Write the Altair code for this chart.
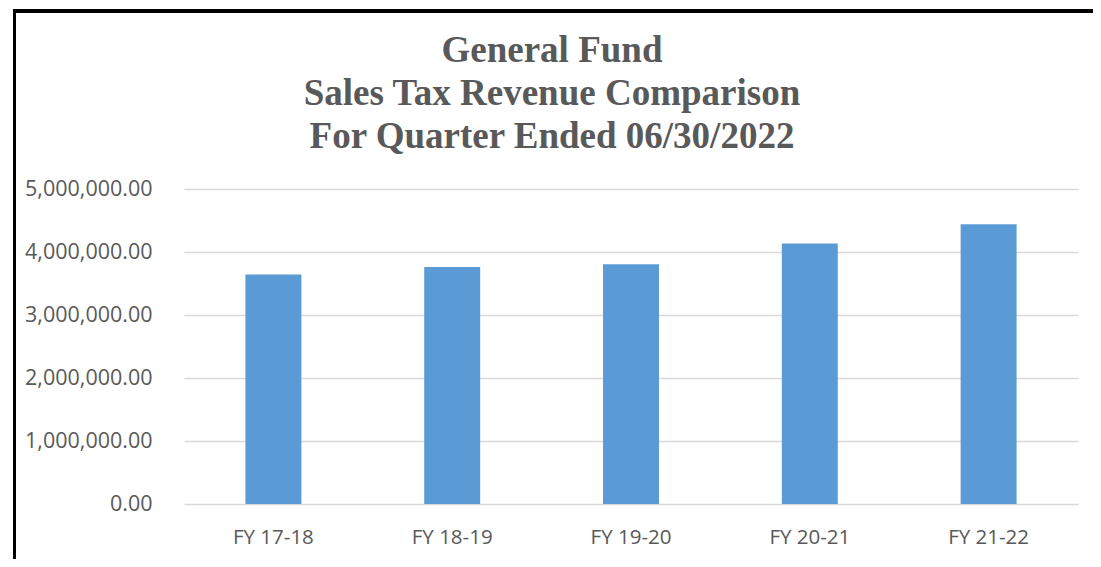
import altair as alt
import pandas as pd

years = ["FY 17-18", "FY 18-19", "FY 19-20", "FY 20-21", "FY 21-22"]
revenue = [3641000, 3763000, 3806000, 4133000, 4440000]
y_ticks = [0, 1000000, 2000000, 3000000, 4000000, 5000000]
title_lines = ["General Fund", "Sales Tax Revenue Comparison", "For Quarter Ended 06/30/2022"]

df = pd.DataFrame({"year": years, "revenue": revenue})

TEXT = "#595959"
W, H = 894, 315
PAD = {"left": 176, "top": 181, "right": 15, "bottom": 55}

bars = alt.Chart(df).mark_bar(color="#5B9BD5").encode(
    x=alt.X("year:N", sort=years, title=None,
            scale=alt.Scale(paddingInner=0.687, paddingOuter=0.3435),
            axis=alt.Axis(labelAngle=0, ticks=False, domain=False,
                          labelFont="Open Sans", labelFontSize=20.5,
                          labelColor=TEXT, labelPadding=23)),
    y=alt.Y("revenue:Q", title=None,
            scale=alt.Scale(domain=[0, 5000000], nice=False),
            axis=alt.Axis(values=y_ticks, format=",.2f", ticks=False, domain=False,
                          labelFont="Open Sans", labelFontSize=21.5,
                          labelColor=TEXT, labelPadding=32,
                          gridColor="#D9D9D9", gridWidth=1.5)),
)

frame_data = alt.Data(values=[{"k": 1}])
left_line = alt.Chart(frame_data).mark_rect(color="black").encode(
    x=alt.value(-171), x2=alt.value(-168),
    y=alt.value(-180), y2=alt.value(H + PAD["bottom"]),
)
top_line = alt.Chart(frame_data).mark_rect(color="black").encode(
    x=alt.value(-171), x2=alt.value(W + PAD["right"]),
    y=alt.value(-180), y2=alt.value(-176),
)

title = alt.Chart(frame_data).mark_text(
    text=title_lines, font="Liberation Serif", fontSize=37, fontWeight="bold",
    color=TEXT, lineHeight=43, align="center", baseline="alphabetic",
).encode(
    x=alt.value(368), y=alt.value(-127),
)

chart = alt.layer(bars, left_line, top_line, title).properties(
    width=W, height=H,
    padding=PAD,
    autosize=alt.AutoSizeParams(type="none"),
    background="white",
).configure_view(stroke=None)

chart.save("out.html", embed_options={"renderer": "svg", "actions": False})
